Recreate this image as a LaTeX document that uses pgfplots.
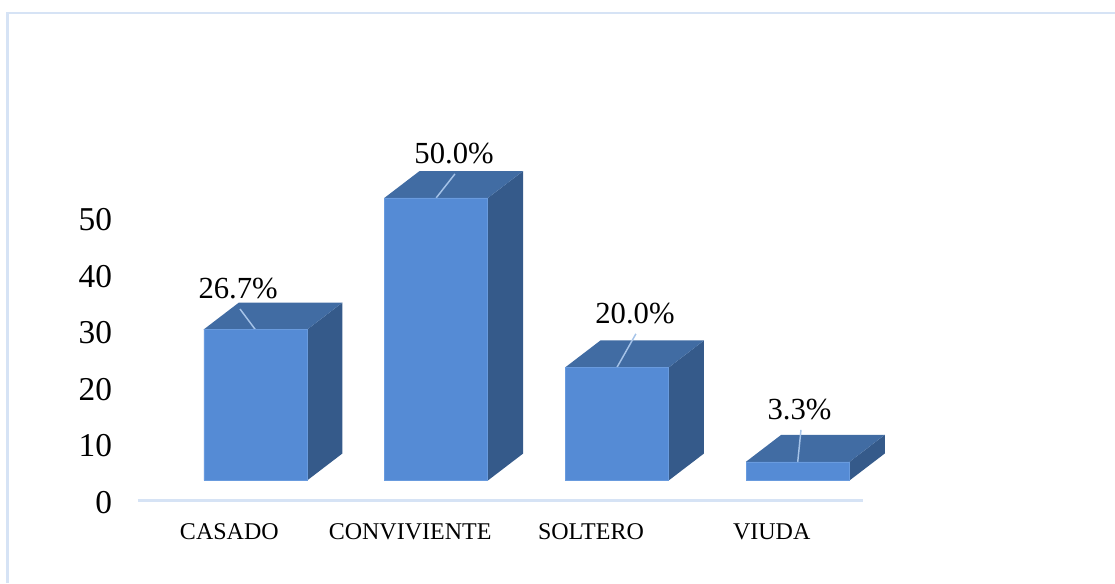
\documentclass[border=0pt]{standalone}
\usepackage{fontspec}
\setmainfont{Liberation Serif}
\usepackage{pgfplots}
\pgfplotsset{compat=1.18}
\definecolor{front}{RGB}{85,139,213}
\definecolor{frontedge}{RGB}{105,155,222}
\definecolor{topface}{RGB}{65,108,163}
\definecolor{sideface}{RGB}{53,90,138}
\definecolor{frameblue}{RGB}{214,227,245}
\definecolor{leader}{RGB}{165,195,232}
\pgfplotsset{
  base/.style={
    scale only axis, width=543.75pt, height=254.25pt,
    at={(0,0)}, anchor=south west,
    xmin=-0.649, xmax=3.361, ymin=0, ymax=60,
    clip=false,
  },
}
\begin{document}
\begin{tikzpicture}
% 1 px of the reference = 0.75pt
\useasboundingbox (-103.5pt,-61.875pt) rectangle (732.75pt,375.375pt);
\draw[frameblue, line width=1.8pt] (-97.875pt,-61.875pt) -- (-97.875pt,365.625pt) -- (732.75pt,365.625pt);

% side and top faces of the bars
\begin{axis}[base, hide axis]
\addplot[fill=sideface, draw=none] coordinates {(0.2865,3.55) (0.4815,8.32) (0.4815,35.02) (0.2865,30.25)} -- cycle;
\addplot[fill=topface, draw=none] coordinates {(-0.2865,30.25) (0.2865,30.25) (0.4815,35.02) (-0.0915,35.02)} -- cycle;
\addplot[fill=sideface, draw=none] coordinates {(1.2865,3.55) (1.4815,8.32) (1.4815,58.32) (1.2865,53.55)} -- cycle;
\addplot[fill=topface, draw=none] coordinates {(0.7135,53.55) (1.2865,53.55) (1.4815,58.32) (0.9085,58.32)} -- cycle;
\addplot[fill=sideface, draw=none] coordinates {(2.2865,3.55) (2.4815,8.32) (2.4815,28.32) (2.2865,23.55)} -- cycle;
\addplot[fill=topface, draw=none] coordinates {(1.7135,23.55) (2.2865,23.55) (2.4815,28.32) (1.9085,28.32)} -- cycle;
\addplot[fill=sideface, draw=none] coordinates {(3.2865,3.55) (3.4815,8.32) (3.4815,11.62) (3.2865,6.85)} -- cycle;
\addplot[fill=topface, draw=none] coordinates {(2.7135,6.85) (3.2865,6.85) (3.4815,11.62) (2.9085,11.62)} -- cycle;
% leader lines
\addplot[leader, line width=1.1pt] coordinates {(0,30.25) (-0.085,33.9)};
\addplot[leader, line width=1.1pt] coordinates {(1,53.55) (1.104,57.8)};
\addplot[leader, line width=1.1pt] coordinates {(2,23.55) (2.105,29.5)};
\addplot[leader, line width=1.1pt] coordinates {(3,6.85) (3.018,12.5)};
\end{axis}

% front faces, on a floor 3.55 above the axis, with axis and labels
\begin{axis}[base,
    ybar stacked, bar width=0.57,
    axis x line*=bottom, axis y line*=left,
    axis line style={-},
    x axis line style={frameblue, line width=1.8pt},
    y axis line style={draw=none},
    major tick length=0pt,
    xtick={0,1,2,3},
    xticklabels={CASADO,CONVIVIENTE,SOLTERO,VIUDA},
    ytick={0,10,20,30,40,50},
    /pgf/number format/assume math mode=true,
    xticklabel style={font=\fontsize{18}{18}\selectfont, xshift=-19.5pt, yshift=-13.5pt},
    yticklabel style={font=\fontsize{25}{25}\selectfont, xshift=-16pt, yshift=-1.5pt},
  ]
\addplot[draw=none, fill=none] coordinates {(0,3.55) (1,3.55) (2,3.55) (3,3.55)};
\addplot[fill=front, draw=frontedge, line width=0.4pt] coordinates {(0,26.7) (1,50.0) (2,20.0) (3,3.3)};
\node[anchor=base, font=\fontsize{23}{23}\selectfont] at (axis cs:-0.095,35.8) {26.7\%};
\node[anchor=base, font=\fontsize{23}{23}\selectfont] at (axis cs:1.099,59.7) {50.0\%};
\node[anchor=base, font=\fontsize{23}{23}\selectfont] at (axis cs:2.10,31.4) {20.0\%};
\node[anchor=base, font=\fontsize{23}{23}\selectfont] at (axis cs:3.01,14.3) {3.3\%};
\end{axis}
\end{tikzpicture}
\end{document}
